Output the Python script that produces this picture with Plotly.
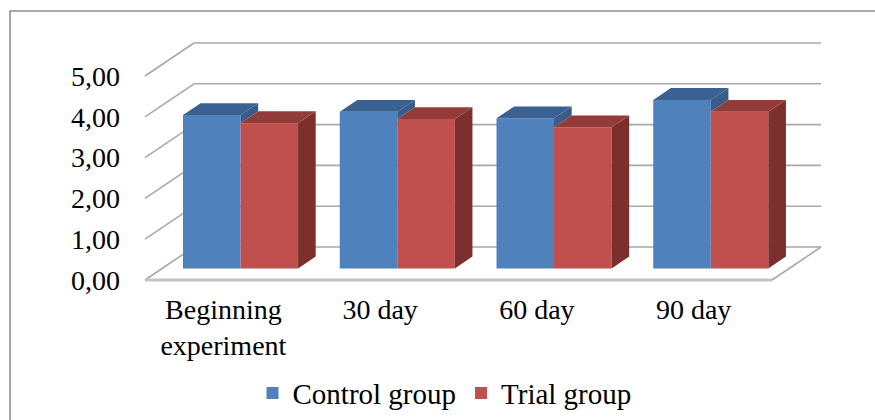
import plotly.graph_objects as go

# Chart data
categories = ["Beginning<br>experiment", "30 day", "60 day", "90 day"]
control_group = [3.76, 3.84, 3.68, 4.13]
trial_group = [3.56, 3.66, 3.46, 3.84]
value_ticks = [0, 1, 2, 3, 4, 5]
value_tick_labels = ["0,00", "1,00", "2,00", "3,00", "4,00", "5,00"]

# Oblique projection of the 3D box: depth 0 = front plane, 1 = back wall
DX = 0.3126   # horizontal shift (category units) for full depth
DY = 0.809    # vertical shift (value units) for full depth
D0, D1 = 0.35, 0.71  # depth slab occupied by the columns
BW = 0.367           # column width in category units


def proj(x, v, d):
    return x + d * DX, v + d * DY


SERIF = "Liberation Serif"
GRID = "#a9a9a9"


def font(size=28):
    return dict(family=SERIF, size=size, color="black")


fig = go.Figure()

x_lo, x_hi = -0.5, len(categories) - 0.5

# Walls and floor
shapes = []
for v in value_ticks:
    ax, ay = proj(x_lo, v, 0)
    bx, by = proj(x_lo, v, 1)
    cx, cy = proj(x_hi, v, 1)
    shapes.append(dict(type="line", xref="x", yref="y", x0=ax, y0=ay, x1=bx, y1=by,
                       line=dict(color=GRID, width=1.6), layer="below"))
    shapes.append(dict(type="line", xref="x", yref="y", x0=bx, y0=by, x1=cx, y1=cy,
                       line=dict(color=GRID, width=1.6), layer="below"))
fx0, fy0 = proj(x_lo, 0, 0)
fx1, fy1 = proj(x_hi, 0, 0)
rx1, ry1 = proj(x_hi, 0, 1)
shapes.append(dict(type="line", xref="x", yref="y", x0=fx0, y0=fy0, x1=fx1, y1=fy1,
                   line=dict(color="#c4c4c4", width=3), layer="below"))
shapes.append(dict(type="line", xref="x", yref="y", x0=fx1, y0=fy1, x1=rx1, y1=ry1,
                   line=dict(color=GRID, width=1.6), layer="below"))

# Outer chart border
shapes.append(dict(type="rect", xref="paper", yref="paper",
                   x0=-0.1608, x1=1.2, y0=-0.7, y1=1.073,
                   line=dict(color="#8c8c8c", width=1.5), layer="above"))

series = [
    dict(name="Control group", values=control_group, offset=-BW,
         front="#4f81bd", top="#3a6192", side="#385d8a"),
    dict(name="Trial group", values=trial_group, offset=0.0,
         front="#c0504d", top="#933b39", side="#7b302e"),
]

# Front faces of the columns
for s in series:
    fig.add_trace(go.Bar(
        x=[i + D0 * DX for i in range(len(categories))],
        y=s["values"], base=D0 * DY, width=BW, offset=s["offset"],
        marker=dict(color=s["front"], line=dict(width=0)),
        name=s["name"], hoverinfo="skip",
    ))


def poly(pts, color):
    xs = [p[0] for p in pts] + [pts[0][0]]
    ys = [p[1] for p in pts] + [pts[0][1]]
    fig.add_trace(go.Scatter(x=xs, y=ys, mode="lines", fill="toself",
                             fillcolor=color, line=dict(width=0, color=color),
                             showlegend=False, hoverinfo="skip"))


# Top and side faces, painted left to right
for i in range(len(categories)):
    for k, s in enumerate(series):
        h = s["values"][i]
        xl = i + s["offset"]
        xr = xl + BW
        if k + 1 < len(series):
            lo = min(h, series[k + 1]["values"][i])
        else:
            lo = 0.0
        if h > lo:
            poly([proj(xr, lo, D0), proj(xr, lo, D1), proj(xr, h, D1), proj(xr, h, D0)],
                 s["side"])
        poly([proj(xl, h, D0), proj(xr, h, D0), proj(xr, h, D1), proj(xl, h, D1)],
             s["top"])

fig.update_layout(
    width=875, height=420,
    margin=dict(l=125, r=35, t=30, b=130, autoexpand=False),
    paper_bgcolor="white", plot_bgcolor="white",
    font=font(),
    barmode="overlay",
    shapes=shapes,
    showlegend=True,
    legend=dict(orientation="h", xref="container", yref="container",
                x=0.508, xanchor="center", y=0.064, yanchor="middle",
                font=font(29), bgcolor="rgba(0,0,0,0)"),
    xaxis=dict(range=[-0.6276, 3.9338], tickvals=list(range(len(categories))),
               ticktext=categories, showgrid=False, zeroline=False, showline=False,
               ticks="", tickfont=font(), fixedrange=True, automargin=False),
    yaxis=dict(range=[-0.2451, 6.1275], tickvals=value_ticks, ticktext=value_tick_labels,
               showgrid=False, zeroline=False, showline=False, ticks="",
               ticklabelstandoff=4,
               tickfont=font(), fixedrange=True, automargin=False),
)

fig.write_html("out.html")
